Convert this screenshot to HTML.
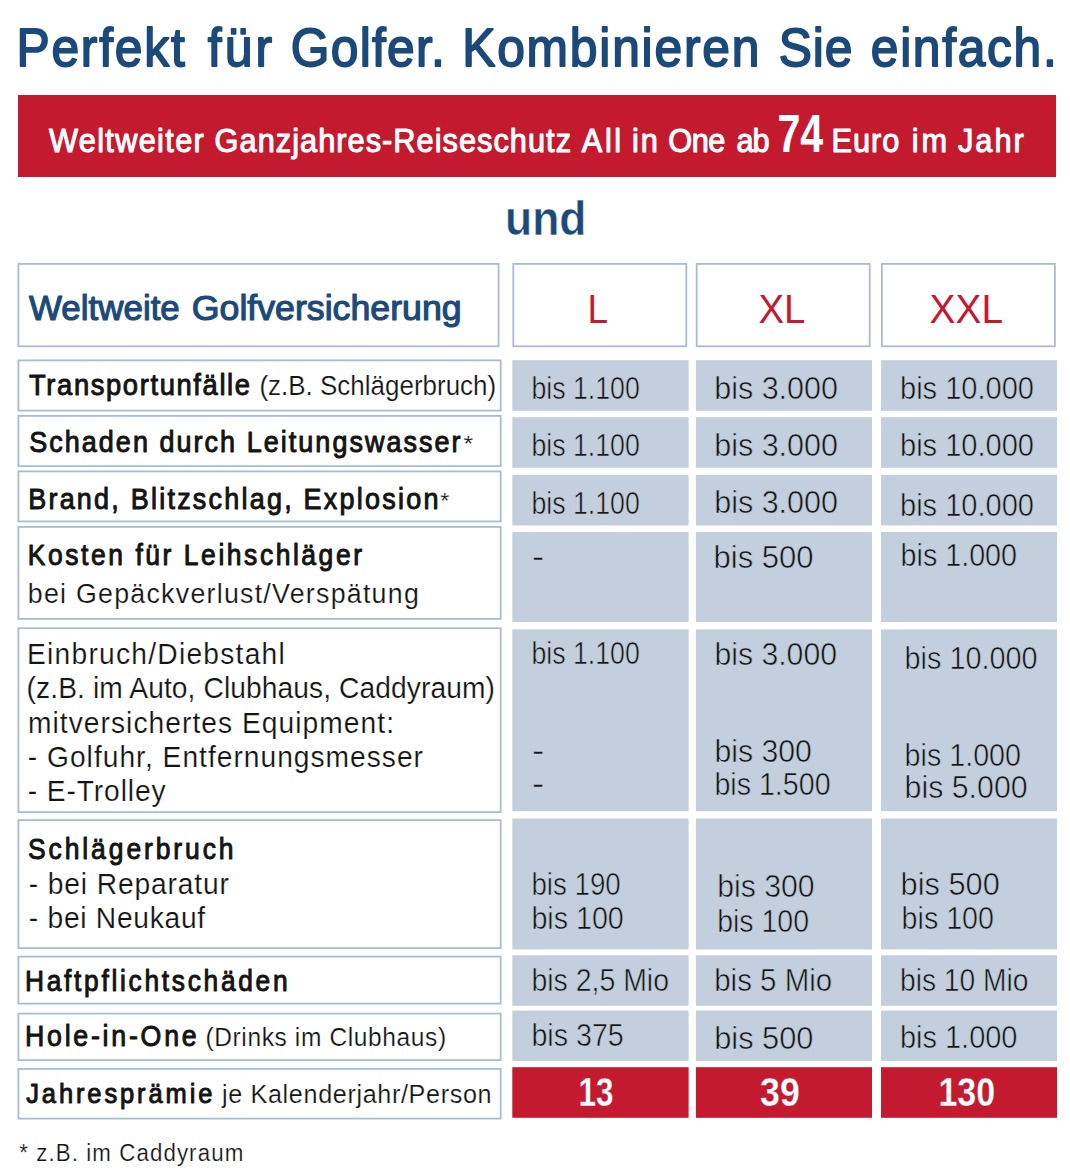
<!DOCTYPE html><html><head><meta charset="utf-8"><title>Golf</title><style>html,body{margin:0;padding:0;background:#fff;overflow:hidden;}svg{display:block;}text{font-family:"Liberation Sans",sans-serif;white-space:pre;}</style></head><body>
<svg width="1070" height="1172" viewBox="0 0 1070 1172">
<rect x="0" y="0" width="1070" height="1172" fill="#fff"/>
<rect x="18.00" y="95.00" width="1038.00" height="82.00" fill="#c41a30"/>
<rect x="512.30" y="360.20" width="176.30" height="50.60" fill="#c3cfdc"/>
<rect x="695.90" y="360.20" width="176.10" height="50.60" fill="#c3cfdc"/>
<rect x="881.00" y="360.20" width="176.00" height="50.60" fill="#c3cfdc"/>
<rect x="512.30" y="417.20" width="176.30" height="50.60" fill="#c3cfdc"/>
<rect x="695.90" y="417.20" width="176.10" height="50.60" fill="#c3cfdc"/>
<rect x="881.00" y="417.20" width="176.00" height="50.60" fill="#c3cfdc"/>
<rect x="512.30" y="474.80" width="176.30" height="50.60" fill="#c3cfdc"/>
<rect x="695.90" y="474.80" width="176.10" height="50.60" fill="#c3cfdc"/>
<rect x="881.00" y="474.80" width="176.00" height="50.60" fill="#c3cfdc"/>
<rect x="512.30" y="532.00" width="176.30" height="90.00" fill="#c3cfdc"/>
<rect x="695.90" y="532.00" width="176.10" height="90.00" fill="#c3cfdc"/>
<rect x="881.00" y="532.00" width="176.00" height="90.00" fill="#c3cfdc"/>
<rect x="512.30" y="629.40" width="176.30" height="181.80" fill="#c3cfdc"/>
<rect x="695.90" y="629.40" width="176.10" height="181.80" fill="#c3cfdc"/>
<rect x="881.00" y="629.40" width="176.00" height="181.80" fill="#c3cfdc"/>
<rect x="512.30" y="818.50" width="176.30" height="130.90" fill="#c3cfdc"/>
<rect x="695.90" y="818.50" width="176.10" height="130.90" fill="#c3cfdc"/>
<rect x="881.00" y="818.50" width="176.00" height="130.90" fill="#c3cfdc"/>
<rect x="512.30" y="955.30" width="176.30" height="50.50" fill="#c3cfdc"/>
<rect x="695.90" y="955.30" width="176.10" height="50.50" fill="#c3cfdc"/>
<rect x="881.00" y="955.30" width="176.00" height="50.50" fill="#c3cfdc"/>
<rect x="512.30" y="1010.60" width="176.30" height="50.40" fill="#c3cfdc"/>
<rect x="695.90" y="1010.60" width="176.10" height="50.40" fill="#c3cfdc"/>
<rect x="881.00" y="1010.60" width="176.00" height="50.40" fill="#c3cfdc"/>
<rect x="512.30" y="1067.20" width="176.30" height="50.60" fill="#c41a30"/>
<rect x="695.90" y="1067.20" width="176.10" height="50.60" fill="#c41a30"/>
<rect x="881.00" y="1067.20" width="176.00" height="50.60" fill="#c41a30"/>
<rect x="18.40" y="263.90" width="480.20" height="82.40" fill="none" stroke="#a9bdd2" stroke-width="1.80"/>
<rect x="513.30" y="263.90" width="173.00" height="82.40" fill="none" stroke="#a9bdd2" stroke-width="1.80"/>
<rect x="696.70" y="263.90" width="173.00" height="82.40" fill="none" stroke="#a9bdd2" stroke-width="1.80"/>
<rect x="881.90" y="263.90" width="173.00" height="82.40" fill="none" stroke="#a9bdd2" stroke-width="1.80"/>
<rect x="18.40" y="360.40" width="482.30" height="50.20" fill="none" stroke="#a9bdd2" stroke-width="1.80"/>
<rect x="18.40" y="415.90" width="482.30" height="50.20" fill="none" stroke="#a9bdd2" stroke-width="1.80"/>
<rect x="18.40" y="471.40" width="482.30" height="50.00" fill="none" stroke="#a9bdd2" stroke-width="1.80"/>
<rect x="18.40" y="526.90" width="482.30" height="92.00" fill="none" stroke="#a9bdd2" stroke-width="1.80"/>
<rect x="18.40" y="628.20" width="482.30" height="183.90" fill="none" stroke="#a9bdd2" stroke-width="1.80"/>
<rect x="18.40" y="820.10" width="482.30" height="128.00" fill="none" stroke="#a9bdd2" stroke-width="1.80"/>
<rect x="18.40" y="956.60" width="482.30" height="47.00" fill="none" stroke="#a9bdd2" stroke-width="1.80"/>
<rect x="18.40" y="1013.60" width="482.30" height="46.50" fill="none" stroke="#a9bdd2" stroke-width="1.80"/>
<rect x="18.40" y="1068.90" width="482.30" height="49.70" fill="none" stroke="#a9bdd2" stroke-width="1.80"/>
<text id="t0" transform="translate(16.40 65.60) scale(0.920 1)" x="0" y="0" font-size="54.10" font-weight="normal" fill="#1b4a7a" stroke="#1b4a7a" stroke-width="1.80" stroke-linejoin="round" textLength="183.04" lengthAdjust="spacing">Perfekt</text>
<text id="t1" transform="translate(207.80 65.60) scale(0.920 1)" x="0" y="0" font-size="54.10" font-weight="normal" fill="#1b4a7a" stroke="#1b4a7a" stroke-width="1.80" stroke-linejoin="round" textLength="69.78" lengthAdjust="spacing">für</text>
<text id="t2" transform="translate(290.80 65.60) scale(0.920 1)" x="0" y="0" font-size="54.10" font-weight="normal" fill="#1b4a7a" stroke="#1b4a7a" stroke-width="1.80" stroke-linejoin="round" textLength="167.39" lengthAdjust="spacing">Golfer.</text>
<text id="t3" transform="translate(462.20 65.60) scale(0.920 1)" x="0" y="0" font-size="54.10" font-weight="normal" fill="#1b4a7a" stroke="#1b4a7a" stroke-width="1.80" stroke-linejoin="round" textLength="323.04" lengthAdjust="spacing">Kombinieren</text>
<text id="t4" transform="translate(778.80 65.60) scale(0.920 1)" x="0" y="0" font-size="54.10" font-weight="normal" fill="#1b4a7a" stroke="#1b4a7a" stroke-width="1.80" stroke-linejoin="round" textLength="80.00" lengthAdjust="spacing">Sie</text>
<text id="t5" transform="translate(870.80 65.60) scale(0.920 1)" x="0" y="0" font-size="54.10" font-weight="normal" fill="#1b4a7a" stroke="#1b4a7a" stroke-width="1.80" stroke-linejoin="round" textLength="202.17" lengthAdjust="spacing">einfach.</text>
<text id="t6" transform="translate(49.00 152.00) scale(0.900 1)" x="0" y="0" font-size="34.12" font-weight="normal" fill="#ffffff" stroke="#ffffff" stroke-width="1.10" stroke-linejoin="round" textLength="172.00" lengthAdjust="spacing">Weltweiter</text>
<text id="t7" transform="translate(214.60 152.00) scale(0.900 1)" x="0" y="0" font-size="34.12" font-weight="normal" fill="#ffffff" stroke="#ffffff" stroke-width="1.10" stroke-linejoin="round" textLength="396.00" lengthAdjust="spacing">Ganzjahres-Reiseschutz</text>
<text id="t8" transform="translate(581.80 152.00) scale(0.900 1)" x="0" y="0" font-size="34.12" font-weight="normal" fill="#ffffff" stroke="#ffffff" stroke-width="1.10" stroke-linejoin="round" textLength="43.78" lengthAdjust="spacing">All</text>
<text id="t9" transform="translate(632.00 152.00) scale(0.900 1)" x="0" y="0" font-size="34.12" font-weight="normal" fill="#ffffff" stroke="#ffffff" stroke-width="1.10" stroke-linejoin="round" textLength="28.67" lengthAdjust="spacing">in</text>
<text id="t10" transform="translate(668.20 152.00) scale(0.900 1)" x="0" y="0" font-size="34.12" font-weight="normal" fill="#ffffff" stroke="#ffffff" stroke-width="1.10" stroke-linejoin="round" textLength="63.56" lengthAdjust="spacing">One</text>
<text id="t11" transform="translate(736.60 152.00) scale(0.900 1)" x="0" y="0" font-size="34.12" font-weight="normal" fill="#ffffff" stroke="#ffffff" stroke-width="1.10" stroke-linejoin="round" textLength="36.67" lengthAdjust="spacing">ab</text>
<text id="t12" transform="translate(831.60 152.00) scale(0.900 1)" x="0" y="0" font-size="34.12" font-weight="normal" fill="#ffffff" stroke="#ffffff" stroke-width="1.10" stroke-linejoin="round" textLength="75.11" lengthAdjust="spacing">Euro</text>
<text id="t13" transform="translate(911.80 152.00) scale(0.900 1)" x="0" y="0" font-size="34.12" font-weight="normal" fill="#ffffff" stroke="#ffffff" stroke-width="1.10" stroke-linejoin="round" textLength="39.33" lengthAdjust="spacing">im</text>
<text id="t14" transform="translate(958.00 152.00) scale(0.900 1)" x="0" y="0" font-size="34.12" font-weight="normal" fill="#ffffff" stroke="#ffffff" stroke-width="1.10" stroke-linejoin="round" textLength="73.11" lengthAdjust="spacing">Jahr</text>
<text id="t15" x="777.40" y="152.00" font-size="54.22" font-weight="bold" fill="#ffffff" textLength="45.80" lengthAdjust="spacingAndGlyphs">74</text>
<text id="t16" x="505.00" y="235.00" font-size="48.51" font-weight="bold" fill="#1b4a7a" stroke="#ffffff" stroke-width="0.50" stroke-linejoin="round" textLength="81.40" lengthAdjust="spacingAndGlyphs">und</text>
<text id="t17" x="29.00" y="320.00" font-size="35.96" font-weight="normal" fill="#1b4a7a" stroke="#1b4a7a" stroke-width="1.20" stroke-linejoin="round" textLength="150.80" lengthAdjust="spacingAndGlyphs">Weltweite</text>
<text id="t18" x="191.80" y="320.00" font-size="35.96" font-weight="normal" fill="#1b4a7a" stroke="#1b4a7a" stroke-width="1.20" stroke-linejoin="round" textLength="269.80" lengthAdjust="spacingAndGlyphs">Golfversicherung</text>
<text id="t19" x="587.40" y="322.90" font-size="40.55" font-weight="normal" fill="#c41a30" textLength="20.60" lengthAdjust="spacingAndGlyphs">L</text>
<text id="t20" x="758.40" y="322.90" font-size="40.55" font-weight="normal" fill="#c41a30" textLength="47.00" lengthAdjust="spacingAndGlyphs">XL</text>
<text id="t21" x="929.60" y="322.80" font-size="40.55" font-weight="normal" fill="#c41a30" textLength="73.40" lengthAdjust="spacingAndGlyphs">XXL</text>
<text id="t22" transform="translate(29.00 395.00) scale(0.900 1)" x="0" y="0" font-size="30.38" font-weight="normal" fill="#141414" stroke="#141414" stroke-width="1.00" stroke-linejoin="round" textLength="245.56" lengthAdjust="spacing">Transportunfälle</text>
<text id="t23" transform="translate(259.40 395.00) scale(0.950 1)" x="0" y="0" font-size="27.34" font-weight="normal" fill="#141414" stroke="#ffffff" stroke-width="0.20" stroke-linejoin="round" textLength="249.26" lengthAdjust="spacing">(z.B. Schlägerbruch)</text>
<text id="t24" transform="translate(29.20 451.50) scale(0.900 1)" x="0" y="0" font-size="29.96" font-weight="normal" fill="#141414" stroke="#141414" stroke-width="1.00" stroke-linejoin="round" textLength="479.33" lengthAdjust="spacing">Schaden durch Leitungswasser</text>
<text id="t25" x="463.40" y="450.70" font-size="22.79" font-weight="normal" fill="#141414" stroke="#ffffff" stroke-width="0.20" stroke-linejoin="round" textLength="9.60" lengthAdjust="spacingAndGlyphs">*</text>
<text id="t26" transform="translate(28.20 508.50) scale(0.900 1)" x="0" y="0" font-size="29.96" font-weight="normal" fill="#141414" stroke="#141414" stroke-width="1.00" stroke-linejoin="round" textLength="455.78" lengthAdjust="spacing">Brand, Blitzschlag, Explosion</text>
<text id="t27" x="440.20" y="507.70" font-size="22.79" font-weight="normal" fill="#141414" stroke="#ffffff" stroke-width="0.20" stroke-linejoin="round" textLength="9.00" lengthAdjust="spacingAndGlyphs">*</text>
<text id="t28" transform="translate(27.80 564.50) scale(0.900 1)" x="0" y="0" font-size="29.41" font-weight="normal" fill="#141414" stroke="#141414" stroke-width="1.00" stroke-linejoin="round" textLength="371.33" lengthAdjust="spacing">Kosten für Leihschläger</text>
<text id="t29" transform="translate(27.80 603.00) scale(0.950 1)" x="0" y="0" font-size="28.19" font-weight="normal" fill="#141414" stroke="#ffffff" stroke-width="0.20" stroke-linejoin="round" textLength="411.58" lengthAdjust="spacing">bei Gepäckverlust/Verspätung</text>
<text id="t30" transform="translate(27.00 663.80) scale(0.950 1)" x="0" y="0" font-size="29.69" font-weight="normal" fill="#141414" stroke="#ffffff" stroke-width="0.20" stroke-linejoin="round" textLength="271.37" lengthAdjust="spacing">Einbruch/Diebstahl</text>
<text id="t31" transform="translate(26.60 697.60) scale(0.950 1)" x="0" y="0" font-size="29.69" font-weight="normal" fill="#141414" stroke="#ffffff" stroke-width="0.20" stroke-linejoin="round" textLength="493.05" lengthAdjust="spacing">(z.B. im Auto, Clubhaus, Caddyraum)</text>
<text id="t32" transform="translate(28.00 732.90) scale(0.950 1)" x="0" y="0" font-size="29.69" font-weight="normal" fill="#141414" stroke="#ffffff" stroke-width="0.20" stroke-linejoin="round" textLength="385.26" lengthAdjust="spacing">mitversichertes Equipment:</text>
<text id="t33" transform="translate(27.80 766.50) scale(0.950 1)" x="0" y="0" font-size="29.69" font-weight="normal" fill="#141414" stroke="#ffffff" stroke-width="0.20" stroke-linejoin="round" textLength="416.00" lengthAdjust="spacing">- Golfuhr, Entfernungsmesser</text>
<text id="t34" transform="translate(27.80 800.80) scale(0.950 1)" x="0" y="0" font-size="29.69" font-weight="normal" fill="#141414" stroke="#ffffff" stroke-width="0.20" stroke-linejoin="round" textLength="145.05" lengthAdjust="spacing">- E-Trolley</text>
<text id="t35" transform="translate(28.00 859.40) scale(0.900 1)" x="0" y="0" font-size="29.41" font-weight="normal" fill="#141414" stroke="#141414" stroke-width="1.00" stroke-linejoin="round" textLength="228.44" lengthAdjust="spacing">Schlägerbruch</text>
<text id="t36" transform="translate(28.80 894.30) scale(0.950 1)" x="0" y="0" font-size="29.69" font-weight="normal" fill="#141414" stroke="#ffffff" stroke-width="0.20" stroke-linejoin="round" textLength="210.74" lengthAdjust="spacing">- bei Reparatur</text>
<text id="t37" transform="translate(28.80 928.30) scale(0.950 1)" x="0" y="0" font-size="29.69" font-weight="normal" fill="#141414" stroke="#ffffff" stroke-width="0.20" stroke-linejoin="round" textLength="185.68" lengthAdjust="spacing">- bei Neukauf</text>
<text id="t38" transform="translate(25.00 990.50) scale(0.900 1)" x="0" y="0" font-size="29.27" font-weight="normal" fill="#141414" stroke="#141414" stroke-width="1.00" stroke-linejoin="round" textLength="291.78" lengthAdjust="spacing">Haftpflichtschäden</text>
<text id="t39" transform="translate(25.00 1045.60) scale(0.900 1)" x="0" y="0" font-size="29.69" font-weight="normal" fill="#141414" stroke="#141414" stroke-width="1.00" stroke-linejoin="round" textLength="190.67" lengthAdjust="spacing">Hole-in-One</text>
<text id="t40" transform="translate(205.40 1045.60) scale(0.950 1)" x="0" y="0" font-size="25.82" font-weight="normal" fill="#141414" stroke="#ffffff" stroke-width="0.20" stroke-linejoin="round" textLength="253.47" lengthAdjust="spacing">(Drinks im Clubhaus)</text>
<text id="t41" transform="translate(26.20 1103.20) scale(0.900 1)" x="0" y="0" font-size="28.31" font-weight="normal" fill="#141414" stroke="#141414" stroke-width="1.00" stroke-linejoin="round" textLength="206.89" lengthAdjust="spacing">Jahresprämie</text>
<text id="t42" transform="translate(222.00 1103.40) scale(0.950 1)" x="0" y="0" font-size="26.51" font-weight="normal" fill="#141414" stroke="#ffffff" stroke-width="0.20" stroke-linejoin="round" textLength="283.79" lengthAdjust="spacing">je Kalenderjahr/Person</text>
<text id="t43" transform="translate(19.20 1160.50) scale(0.950 1)" x="0" y="0" font-size="23.47" font-weight="normal" fill="#141414" stroke="#ffffff" stroke-width="0.20" stroke-linejoin="round" textLength="235.79" lengthAdjust="spacing">* z.B. im Caddyraum</text>
<text id="t44" x="531.40" y="398.50" font-size="31.05" font-weight="normal" fill="#141414" stroke="#c3cfdc" stroke-width="0.60" stroke-linejoin="round" textLength="108.40" lengthAdjust="spacingAndGlyphs">bis 1.100</text>
<text id="t45" x="714.20" y="398.50" font-size="31.05" font-weight="normal" fill="#141414" stroke="#c3cfdc" stroke-width="0.60" stroke-linejoin="round" textLength="123.80" lengthAdjust="spacingAndGlyphs">bis 3.000</text>
<text id="t46" x="900.00" y="398.50" font-size="31.05" font-weight="normal" fill="#141414" stroke="#c3cfdc" stroke-width="0.60" stroke-linejoin="round" textLength="134.00" lengthAdjust="spacingAndGlyphs">bis 10.000</text>
<text id="t47" x="531.40" y="455.50" font-size="30.91" font-weight="normal" fill="#141414" stroke="#c3cfdc" stroke-width="0.60" stroke-linejoin="round" textLength="108.40" lengthAdjust="spacingAndGlyphs">bis 1.100</text>
<text id="t48" x="714.20" y="455.90" font-size="31.47" font-weight="normal" fill="#141414" stroke="#c3cfdc" stroke-width="0.60" stroke-linejoin="round" textLength="123.80" lengthAdjust="spacingAndGlyphs">bis 3.000</text>
<text id="t49" x="900.00" y="455.90" font-size="31.47" font-weight="normal" fill="#141414" stroke="#c3cfdc" stroke-width="0.60" stroke-linejoin="round" textLength="134.00" lengthAdjust="spacingAndGlyphs">bis 10.000</text>
<text id="t50" x="531.40" y="513.50" font-size="31.05" font-weight="normal" fill="#141414" stroke="#c3cfdc" stroke-width="0.60" stroke-linejoin="round" textLength="108.40" lengthAdjust="spacingAndGlyphs">bis 1.100</text>
<text id="t51" x="714.20" y="513.40" font-size="31.19" font-weight="normal" fill="#141414" stroke="#c3cfdc" stroke-width="0.60" stroke-linejoin="round" textLength="123.80" lengthAdjust="spacingAndGlyphs">bis 3.000</text>
<text id="t52" x="900.00" y="515.70" font-size="30.64" font-weight="normal" fill="#141414" stroke="#c3cfdc" stroke-width="0.60" stroke-linejoin="round" textLength="134.00" lengthAdjust="spacingAndGlyphs">bis 10.000</text>
<text id="t53" x="532.00" y="567.00" font-size="31.05" font-weight="normal" fill="#141414" stroke="#c3cfdc" stroke-width="0.50" stroke-linejoin="round" textLength="12.20" lengthAdjust="spacingAndGlyphs">-</text>
<text id="t54" x="713.60" y="567.70" font-size="31.33" font-weight="normal" fill="#141414" stroke="#c3cfdc" stroke-width="0.60" stroke-linejoin="round" textLength="100.00" lengthAdjust="spacingAndGlyphs">bis 500</text>
<text id="t55" x="900.60" y="566.00" font-size="32.02" font-weight="normal" fill="#141414" stroke="#c3cfdc" stroke-width="0.60" stroke-linejoin="round" textLength="116.40" lengthAdjust="spacingAndGlyphs">bis 1.000</text>
<text id="t56" x="531.40" y="664.40" font-size="31.05" font-weight="normal" fill="#141414" stroke="#c3cfdc" stroke-width="0.60" stroke-linejoin="round" textLength="108.40" lengthAdjust="spacingAndGlyphs">bis 1.100</text>
<text id="t57" x="532.00" y="761.00" font-size="31.05" font-weight="normal" fill="#141414" stroke="#c3cfdc" stroke-width="0.50" stroke-linejoin="round" textLength="12.20" lengthAdjust="spacingAndGlyphs">-</text>
<text id="t58" x="532.00" y="794.00" font-size="31.05" font-weight="normal" fill="#141414" stroke="#c3cfdc" stroke-width="0.50" stroke-linejoin="round" textLength="12.20" lengthAdjust="spacingAndGlyphs">-</text>
<text id="t59" x="714.40" y="664.80" font-size="31.60" font-weight="normal" fill="#141414" stroke="#c3cfdc" stroke-width="0.60" stroke-linejoin="round" textLength="122.60" lengthAdjust="spacingAndGlyphs">bis 3.000</text>
<text id="t60" x="714.40" y="761.70" font-size="31.88" font-weight="normal" fill="#141414" stroke="#c3cfdc" stroke-width="0.60" stroke-linejoin="round" textLength="97.40" lengthAdjust="spacingAndGlyphs">bis 300</text>
<text id="t61" x="714.40" y="794.60" font-size="31.60" font-weight="normal" fill="#141414" stroke="#c3cfdc" stroke-width="0.60" stroke-linejoin="round" textLength="116.20" lengthAdjust="spacingAndGlyphs">bis 1.500</text>
<text id="t62" x="904.60" y="668.50" font-size="31.05" font-weight="normal" fill="#141414" stroke="#c3cfdc" stroke-width="0.60" stroke-linejoin="round" textLength="133.00" lengthAdjust="spacingAndGlyphs">bis 10.000</text>
<text id="t63" x="904.60" y="765.60" font-size="31.60" font-weight="normal" fill="#141414" stroke="#c3cfdc" stroke-width="0.60" stroke-linejoin="round" textLength="116.40" lengthAdjust="spacingAndGlyphs">bis 1.000</text>
<text id="t64" x="904.60" y="797.60" font-size="31.19" font-weight="normal" fill="#141414" stroke="#c3cfdc" stroke-width="0.60" stroke-linejoin="round" textLength="123.00" lengthAdjust="spacingAndGlyphs">bis 5.000</text>
<text id="t65" x="531.40" y="894.50" font-size="30.78" font-weight="normal" fill="#141414" stroke="#c3cfdc" stroke-width="0.60" stroke-linejoin="round" textLength="89.40" lengthAdjust="spacingAndGlyphs">bis 190</text>
<text id="t66" x="531.40" y="928.60" font-size="30.64" font-weight="normal" fill="#141414" stroke="#c3cfdc" stroke-width="0.60" stroke-linejoin="round" textLength="92.40" lengthAdjust="spacingAndGlyphs">bis 100</text>
<text id="t67" x="717.20" y="896.70" font-size="31.19" font-weight="normal" fill="#141414" stroke="#c3cfdc" stroke-width="0.60" stroke-linejoin="round" textLength="97.40" lengthAdjust="spacingAndGlyphs">bis 300</text>
<text id="t68" x="717.20" y="931.70" font-size="31.19" font-weight="normal" fill="#141414" stroke="#c3cfdc" stroke-width="0.60" stroke-linejoin="round" textLength="91.80" lengthAdjust="spacingAndGlyphs">bis 100</text>
<text id="t69" x="900.60" y="894.50" font-size="30.78" font-weight="normal" fill="#141414" stroke="#c3cfdc" stroke-width="0.60" stroke-linejoin="round" textLength="99.20" lengthAdjust="spacingAndGlyphs">bis 500</text>
<text id="t70" x="901.60" y="928.60" font-size="30.64" font-weight="normal" fill="#141414" stroke="#c3cfdc" stroke-width="0.60" stroke-linejoin="round" textLength="92.40" lengthAdjust="spacingAndGlyphs">bis 100</text>
<text id="t71" x="531.40" y="990.80" font-size="31.74" font-weight="normal" fill="#141414" stroke="#c3cfdc" stroke-width="0.60" stroke-linejoin="round" textLength="137.60" lengthAdjust="spacingAndGlyphs">bis 2,5 Mio</text>
<text id="t72" x="714.20" y="990.80" font-size="31.74" font-weight="normal" fill="#141414" stroke="#c3cfdc" stroke-width="0.60" stroke-linejoin="round" textLength="118.00" lengthAdjust="spacingAndGlyphs">bis 5 Mio</text>
<text id="t73" x="900.00" y="990.80" font-size="31.74" font-weight="normal" fill="#141414" stroke="#c3cfdc" stroke-width="0.60" stroke-linejoin="round" textLength="128.40" lengthAdjust="spacingAndGlyphs">bis 10 Mio</text>
<text id="t74" x="531.40" y="1045.90" font-size="31.88" font-weight="normal" fill="#141414" stroke="#c3cfdc" stroke-width="0.60" stroke-linejoin="round" textLength="92.40" lengthAdjust="spacingAndGlyphs">bis 375</text>
<text id="t75" x="714.20" y="1048.50" font-size="31.05" font-weight="normal" fill="#141414" stroke="#c3cfdc" stroke-width="0.60" stroke-linejoin="round" textLength="99.20" lengthAdjust="spacingAndGlyphs">bis 500</text>
<text id="t76" x="900.00" y="1047.70" font-size="31.33" font-weight="normal" fill="#141414" stroke="#c3cfdc" stroke-width="0.60" stroke-linejoin="round" textLength="117.40" lengthAdjust="spacingAndGlyphs">bis 1.000</text>
<text id="t77" x="578.40" y="1105.90" font-size="40.26" font-weight="bold" fill="#ffffff" stroke="#c41a30" stroke-width="0.30" stroke-linejoin="round" textLength="35.00" lengthAdjust="spacingAndGlyphs">13</text>
<text id="t78" x="760.00" y="1105.90" font-size="40.26" font-weight="bold" fill="#ffffff" stroke="#c41a30" stroke-width="0.30" stroke-linejoin="round" textLength="39.80" lengthAdjust="spacingAndGlyphs">39</text>
<text id="t79" x="938.40" y="1105.90" font-size="40.26" font-weight="bold" fill="#ffffff" stroke="#c41a30" stroke-width="0.30" stroke-linejoin="round" textLength="56.80" lengthAdjust="spacingAndGlyphs">130</text>
</svg></body></html>
